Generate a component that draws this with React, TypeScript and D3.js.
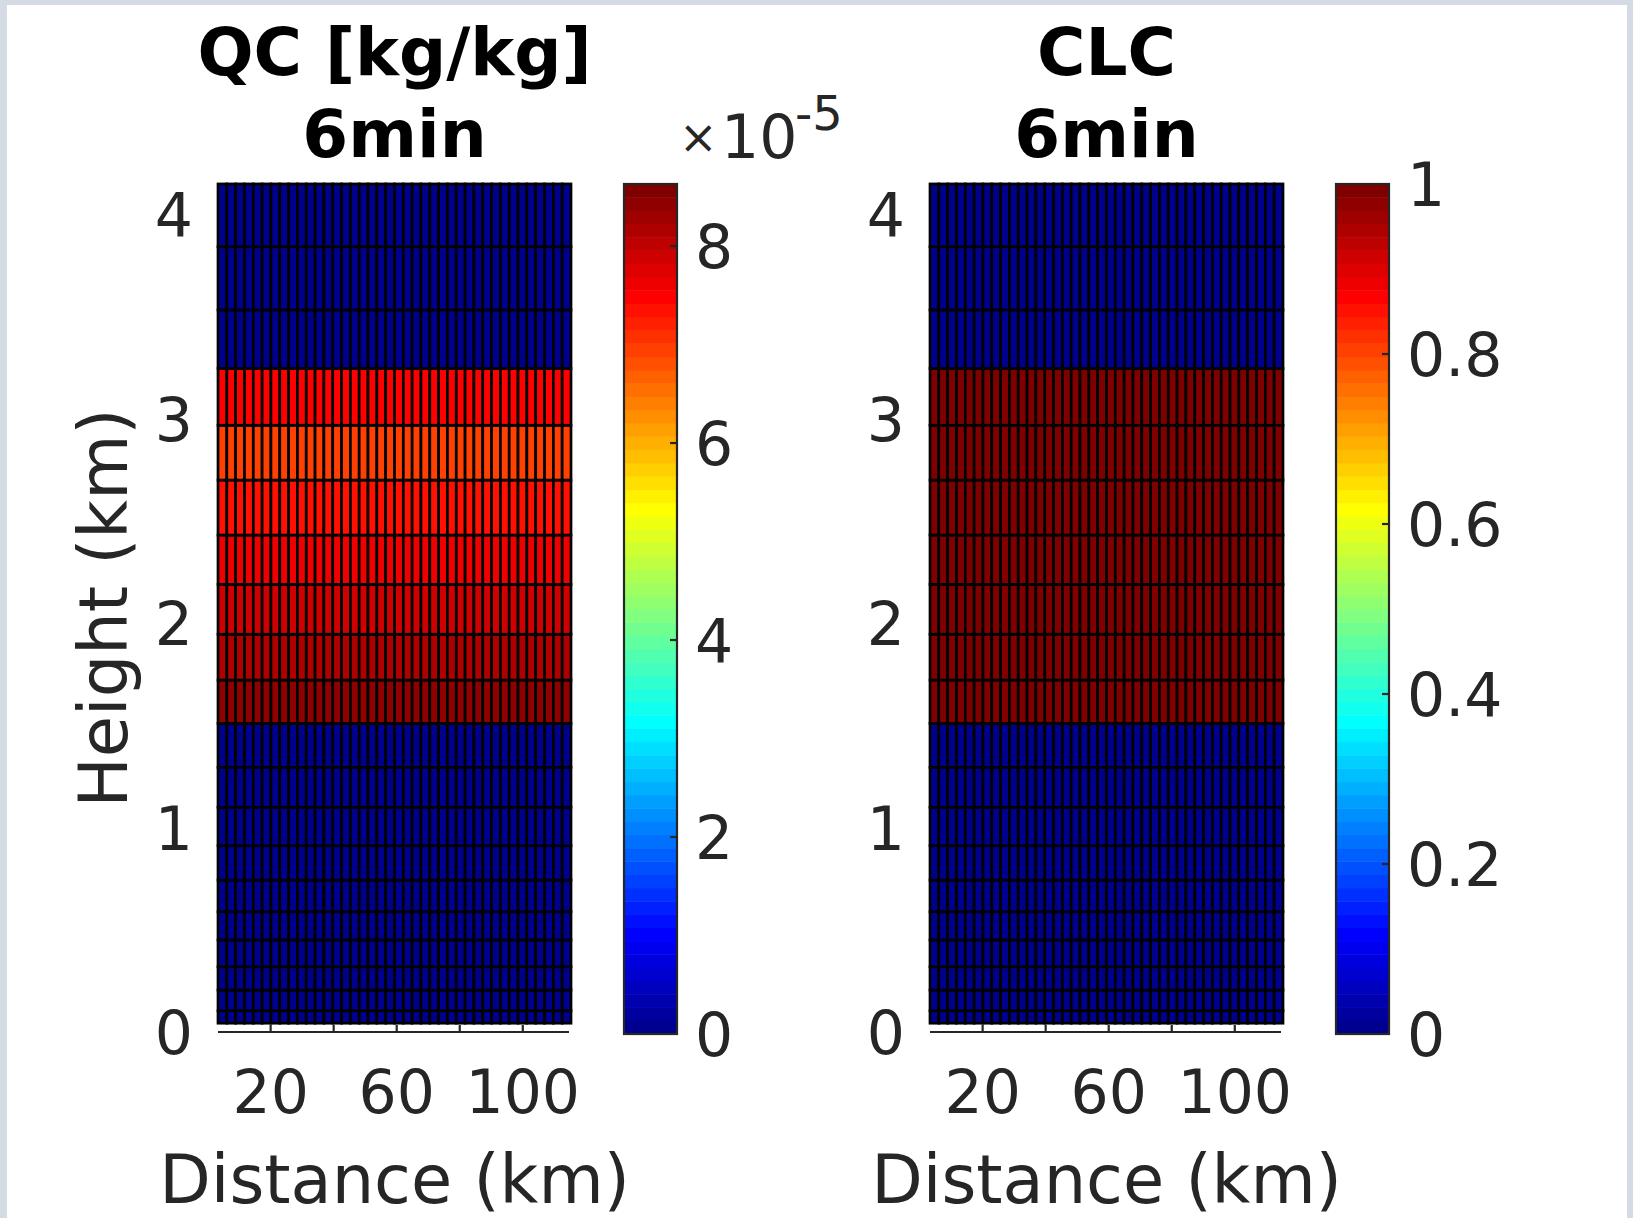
import React from "react";
import * as d3 from "d3";

// ---- data ----
const DISTANCE_EDGES_KM = [3.3, 6.1, 8.9, 11.7, 14.5, 17.3, 20.1, 22.9, 25.7, 28.5, 31.3, 34.1, 36.9, 39.7, 42.5, 45.3, 48.1, 50.9, 53.7, 56.5, 59.3, 62.1, 64.9, 67.7, 70.5, 73.3, 76.1, 78.9, 81.7, 84.5, 87.3, 90.1, 92.9, 95.7, 98.5, 101.3, 104.1, 106.9, 109.7, 112.5, 115.3];
const HEIGHT_EDGES_KM = [0.043, 0.104, 0.205, 0.319, 0.45, 0.588, 0.743, 0.911, 1.099, 1.294, 1.509, 1.721, 1.945, 2.189, 2.43, 2.699, 2.967, 3.245, 3.531, 3.84, 4.147];
// per-level values (bottom -> top), horizontally homogeneous
const QC_PROFILE_1E5 = [0, 0, 0, 0, 0, 0, 0, 0, 0, 0, 8.42, 8.2, 7.9, 7.62, 7.36, 6.95, 7.49, 0, 0, 0];
const CLC_PROFILE = [0, 0, 0, 0, 0, 0, 0, 0, 0, 0, 1, 1, 1, 1, 1, 1, 1, 0, 0, 0];
const QC_CMAX_1E5 = 8.63;
const CLC_CMAX = 1;
const X_TICKS = [20, 40, 60, 80, 100];
const X_TICK_LABELS = [20, 60, 100];
const Y_TICKS = [0, 1, 2, 3, 4];
const QC_CB_TICKS = [0, 2, 4, 6, 8];
const CLC_CB_TICKS = [0, 0.2, 0.4, 0.6, 0.8, 1];
const TITLES = [["QC [kg/kg]", "6min"], ["CLC", "6min"]];

// ---- jet(64) ----
function jet(i: number): string {
  let r = 0, g = 0, b = 0;
  if (i <= 24) r = 0; else if (i <= 40) r = (i - 24) / 16; else if (i <= 56) r = 1; else r = 1 - (i - 56) / 16;
  if (i <= 8) g = 0; else if (i <= 24) g = (i - 8) / 16; else if (i <= 40) g = 1; else if (i <= 56) g = 1 - (i - 40) / 16; else g = 0;
  if (i <= 8) b = (i + 8) / 16; else if (i <= 24) b = 1; else if (i <= 40) b = 1 - (i - 24) / 16; else b = 0;
  return d3.rgb(Math.round(r * 255), Math.round(g * 255), Math.round(b * 255)).formatHex();
}
const JET = d3.range(1, 65).map(jet);
function colorFor(v: number, cmax: number) {
  const idx = Math.min(64, Math.max(1, Math.floor((v / cmax) * 64) + 1));
  return JET[idx - 1];
}

const FONT = "'DejaVu Sans', sans-serif";
const AX = "#262626";
const TICK_FS = 60;

const PLOT_TOP = 184;
const Y0 = 1032;
const PX_PER_KM = 204.5;

function Panel({ left, profile, cmax, cbTicks, title, cbFormat, showYLabel, exponent }: any) {
  const width = 353;
  const right = left + width;
  const x = d3.scaleLinear().domain([DISTANCE_EDGES_KM[0], DISTANCE_EDGES_KM[DISTANCE_EDGES_KM.length - 1]]).range([left, right]);
  const y = d3.scaleLinear().domain([0, 4]).range([Y0, Y0 - 4 * PX_PER_KM]);
  const cx = (left + right) / 2;
  const cbLeft = right + 53;
  const cbW = 53;
  const cbTop = PLOT_TOP;
  const cbBottom = 1034;
  const cbScale = d3.scaleLinear().domain([0, cmax]).range([cbBottom, cbTop]);
  const stepH = (cbBottom - cbTop) / 64;

  const cells: any[] = [];
  for (let r = 0; r < HEIGHT_EDGES_KM.length - 1; r++) {
    for (let c = 0; c < DISTANCE_EDGES_KM.length - 1; c++) {
      const x0 = x(DISTANCE_EDGES_KM[c]);
      const x1 = x(DISTANCE_EDGES_KM[c + 1]);
      const yTop = y(HEIGHT_EDGES_KM[r + 1]);
      const yBot = y(HEIGHT_EDGES_KM[r]);
      cells.push(
        <rect key={`${r}-${c}`} x={x0} y={yTop} width={x1 - x0} height={yBot - yTop}
          fill={colorFor(profile[r], cmax)} stroke="#000" strokeWidth={2.7} />
      );
    }
  }

  return (
    <g>
      <text x={cx} y={75} textAnchor="middle" fontFamily={FONT} fontWeight="bold" fontSize={66} fill="#000">{title[0]}</text>
      <text x={cx} y={157} textAnchor="middle" fontFamily={FONT} fontWeight="bold" fontSize={66} fill="#000">{title[1]}</text>

      {/* x axis */}
      <line x1={left} x2={right - 2} y1={Y0} y2={Y0} stroke={AX} strokeWidth={2.2} />
      {X_TICKS.map((t) => (
        <line key={t} x1={x(t)} x2={x(t)} y1={Y0} y2={Y0 - 7} stroke={AX} strokeWidth={2.2} />
      ))}
      {X_TICK_LABELS.map((t) => (
        <text key={t} x={x(t)} y={1113} textAnchor="middle" fontFamily={FONT} fontSize={TICK_FS} fill={AX}>{t}</text>
      ))}
      <text x={cx} y={1203} textAnchor="middle" fontFamily={FONT} fontSize={67} fill={AX}>Distance (km)</text>

      {/* y axis labels */}
      {Y_TICKS.map((t) => (
        <text key={t} x={left - 25} y={y(t) + 22} textAnchor="end" fontFamily={FONT} fontSize={TICK_FS} fill={AX}>{t}</text>
      ))}
      {showYLabel && (
        <text transform={`translate(127, ${(PLOT_TOP + Y0) / 2}) rotate(-90)`} textAnchor="middle" fontFamily={FONT} fontSize={67} fill={AX}>Height (km)</text>
      )}

      {/* cells */}
      {cells}

      {/* colorbar */}
      {JET.map((col, i) => (
        <rect key={i} x={cbLeft} y={cbBottom - (i + 1) * stepH} width={cbW} height={stepH + 0.5} fill={col} />
      ))}
      <rect x={cbLeft} y={cbTop} width={cbW} height={cbBottom - cbTop} fill="none" stroke={AX} strokeWidth={2.2} />
      {cbTicks.map((t: number) => (
        <g key={t}>
          {t > 0 && t < cmax && <line x1={cbLeft + cbW} x2={cbLeft + cbW - 7} y1={cbScale(t)} y2={cbScale(t)} stroke={AX} strokeWidth={2.2} />}
          <text x={cbLeft + cbW + 18} y={cbScale(t) + 22} fontFamily={FONT} fontSize={TICK_FS} fill={AX}>{cbFormat(t)}</text>
        </g>
      ))}
      {exponent && (
        <g fontFamily={FONT} fill={AX}>
          <text x={679} y={153} fontSize={46}>×</text>
          <text x={721} y={158} fontSize={TICK_FS}>10</text>
          <text x={795} y={130} fontSize={48}>-5</text>
        </g>
      )}
    </g>
  );
}

export default function App() {
  return (
    <svg width={1633} height={1218} style={{ position: "absolute", left: 0, top: 0 }} xmlns="http://www.w3.org/2000/svg">
      <rect x={0} y={0} width={1633} height={1218} fill="#d4dbe5" />
      <rect x={7} y={5} width={1620} height={1213} fill="#ffffff" />
      <Panel left={218} profile={QC_PROFILE_1E5} cmax={QC_CMAX_1E5} cbTicks={QC_CB_TICKS} title={TITLES[0]}
        cbFormat={(t: number) => String(t)} showYLabel={true} exponent={true} />
      <Panel left={930} profile={CLC_PROFILE} cmax={CLC_CMAX} cbTicks={CLC_CB_TICKS} title={TITLES[1]}
        cbFormat={(t: number) => String(t)} showYLabel={false} exponent={false} />
    </svg>
  );
}
